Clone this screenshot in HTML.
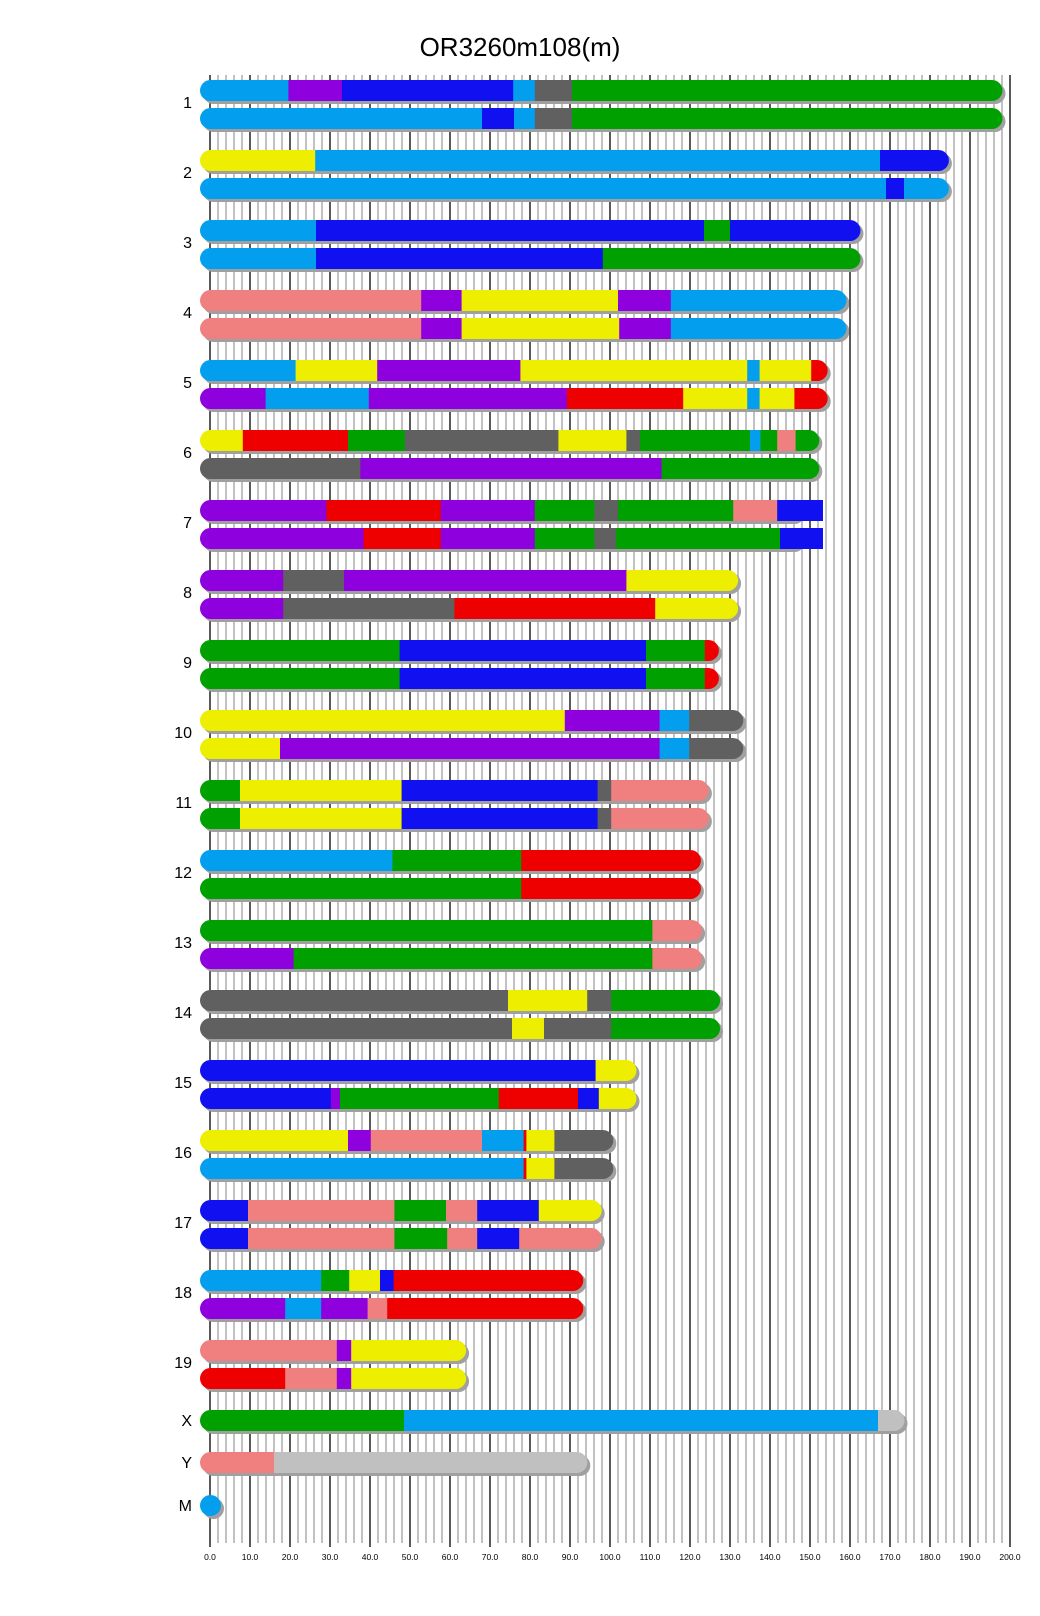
<!DOCTYPE html>
<html><head><meta charset="utf-8"><style>
html,body{margin:0;padding:0;background:#fff;}
svg{display:block;}
</style></head><body>
<svg id="s" width="1040" height="1616" xmlns="http://www.w3.org/2000/svg" font-family="Liberation Sans, Arial, sans-serif">
<text x="520" y="56" font-size="26" text-anchor="middle" fill="#000">OR3260m108(m)</text>
<g id="grid"></g><g id="bars"></g><g id="lab"></g>
</svg>
<script>
const NS="http://www.w3.org/2000/svg";
const C={lb:"#039FEE",pu:"#8E00DD",bl:"#1010F0",gy:"#606060",gr:"#00A000",ye:"#EEEE00",pk:"#F08080",rd:"#EE0000",lg:"#C0C0C0"};
function el(t,a,p){const e=document.createElementNS(NS,t);for(const k in a)e.setAttribute(k,a[k]);(p||document.getElementById('bars')).appendChild(e);return e;}
const g=document.getElementById('grid');
for(let u=0;u<=200;u+=2){const x=210+u*4;const maj=u%10==0;
 el('line',{x1:x,x2:x,y1:75,y2:maj?1547:1543,stroke:maj?"#000":"#A0A0A0","stroke-width":1.3},g);
 if(maj){const t=el('text',{x:x,y:1560,"font-size":8.5,"text-anchor":"middle",fill:"#000"},g);t.textContent=u.toFixed(1);}
}
const D=[
["1",195.5,[["lb",19.6],["pu",33],["bl",75.8],["lb",81.2],["gy",90.5],["gr",999]],[["lb",68],["bl",76],["lb",81.2],["gy",90.5],["gr",999]]],
["2",182.1,[["ye",26.3],["lb",167.5],["bl",999]],[["lb",169],["bl",173.5],["lb",999]]],
["3",160,[["lb",26.5],["bl",123.5],["gr",130],["bl",999]],[["lb",26.5],["bl",98.2],["gr",999]]],
["4",156.5,[["pk",52.8],["pu",62.9],["ye",102],["pu",115.2],["lb",999]],[["pk",52.8],["pu",62.9],["ye",102.3],["pu",115.2],["lb",999]]],
["5",151.8,[["lb",21.4],["ye",41.8],["pu",77.6],["ye",134.3],["lb",137.4],["ye",150.3],["rd",999]],[["pu",13.9],["lb",39.7],["pu",89.2],["rd",118.3],["ye",134.3],["lb",137.4],["ye",146.1],["rd",999]]],
["6",149.7,[["ye",8.2],["rd",34.5],["gr",48.7],["gy",87.1],["ye",104.1],["gy",107.5],["gr",135],["lb",137.6],["gr",141.8],["pk",146.4],["gr",999]],[["gy",37.6],["pu",112.9],["gr",999]]],
["7",145.4,[["pu",29.1],["rd",57.7],["pu",81.2],["gr",96.1],["gy",102],["gr",130.8],["pk",141.8],["bl",153.25]],[["pu",38.4],["rd",57.7],["pu",81.2],["gr",96.1],["gy",101.5],["gr",142.5],["bl",153.25]]],
["8",129.4,[["pu",18.3],["gy",33.5],["pu",104.1],["ye",999]],[["pu",18.3],["gy",61.1],["rd",111.3],["ye",999]]],
["9",124.6,[["gr",47.4],["bl",109],["gr",123.7],["rd",999]],[["gr",47.4],["bl",109],["gr",123.7],["rd",999]]],
["10",130.7,[["ye",88.7],["pu",112.4],["lb",119.8],["gy",999]],[["ye",17.5],["pu",112.4],["lb",119.8],["gy",999]]],
["11",122.1,[["gr",7.5],["ye",47.9],["bl",96.9],["gy",100.3],["pk",999]],[["gr",7.5],["ye",47.9],["bl",96.9],["gy",100.3],["pk",999]]],
["12",120.1,[["lb",45.6],["gr",77.8],["rd",999]],[["gr",77.8],["rd",999]]],
["13",120.4,[["gr",110.6],["pk",999]],[["pu",20.9],["gr",110.6],["pk",999]]],
["14",124.9,[["gy",74.5],["ye",94.3],["gy",100.3],["gr",999]],[["gy",75.5],["ye",83.5],["gy",100.3],["gr",999]]],
["15",104,[["bl",96.4],["ye",999]],[["bl",30.2],["pu",32.5],["gr",72.2],["rd",92],["bl",97.2],["ye",999]]],
["16",98.2,[["ye",34.5],["pu",40.2],["pk",68],["lb",78.4],["rd",79.1],["ye",86.1],["gy",999]],[["lb",78.4],["rd",79.1],["ye",86.1],["gy",999]]],
["17",95.3,[["bl",9.5],["pk",46.1],["gr",59],["pk",66.8],["bl",82.2],["ye",999]],[["bl",9.5],["pk",46.1],["gr",59.3],["pk",66.8],["bl",77.3],["pk",999]]],
["18",90.7,[["lb",27.8],["gr",34.8],["ye",42.5],["bl",45.9],["rd",999]],[["pu",18.8],["lb",27.8],["pu",39.4],["pk",44.3],["rd",999]]],
["19",61.4,[["pk",31.7],["pu",35.3],["ye",999]],[["rd",18.8],["pk",31.7],["pu",35.3],["ye",999]]]
];
let cid=0;
function bar(y,L,segs){
 const endR=210+L*4+10.5;
 let last=segs[segs.length-1][1];let ext=last<999&&last>L?210+last*4:0;
 el('rect',{x:203,y:y+3,width:endR-200,height:21,rx:10.5,fill:"#A0A0A0"});
 const id="c"+(cid++);const cp=el('clipPath',{id:id});
 el('rect',{x:200,y:y,width:endR-200,height:21,rx:10.5},cp);
 if(ext)el('rect',{x:endR-12,y:y,width:ext-endR+12,height:21},cp);
 const gg=el('g',{"clip-path":"url(#"+id+")"});
 let s=0;const maxX=Math.max(endR,ext);
 segs.forEach(([c,e])=>{const x0=s==0?200:210+s*4;const x1=e>=999?maxX:210+e*4;
  el('rect',{x:x0,y:y,width:x1-x0+0.5,height:21,fill:C[c]},gg);s=e;});
}
function label(t,y){const e=el('text',{x:192,y:y+3,"font-size":16,"text-anchor":"end",fill:"#000"},document.getElementById('lab'));e.textContent=t;}
D.forEach((d,i)=>{const y=80+70*i;bar(y,d[1],d[2]);bar(y+28,d[1],d[3]);label(d[0],y+25);});
bar(1410,171,[["gr",48.5],["lb",167],["lg",999]]);label("X",1423);
bar(1452,91.7,[["pk",16],["lg",999]]);label("Y",1465);
el('circle',{cx:213.5,cy:1508.5,r:10.5,fill:"#A0A0A0"});el('circle',{cx:210.5,cy:1505.5,r:10.5,fill:C.lb});label("M",1508);
</script>
</body></html>
